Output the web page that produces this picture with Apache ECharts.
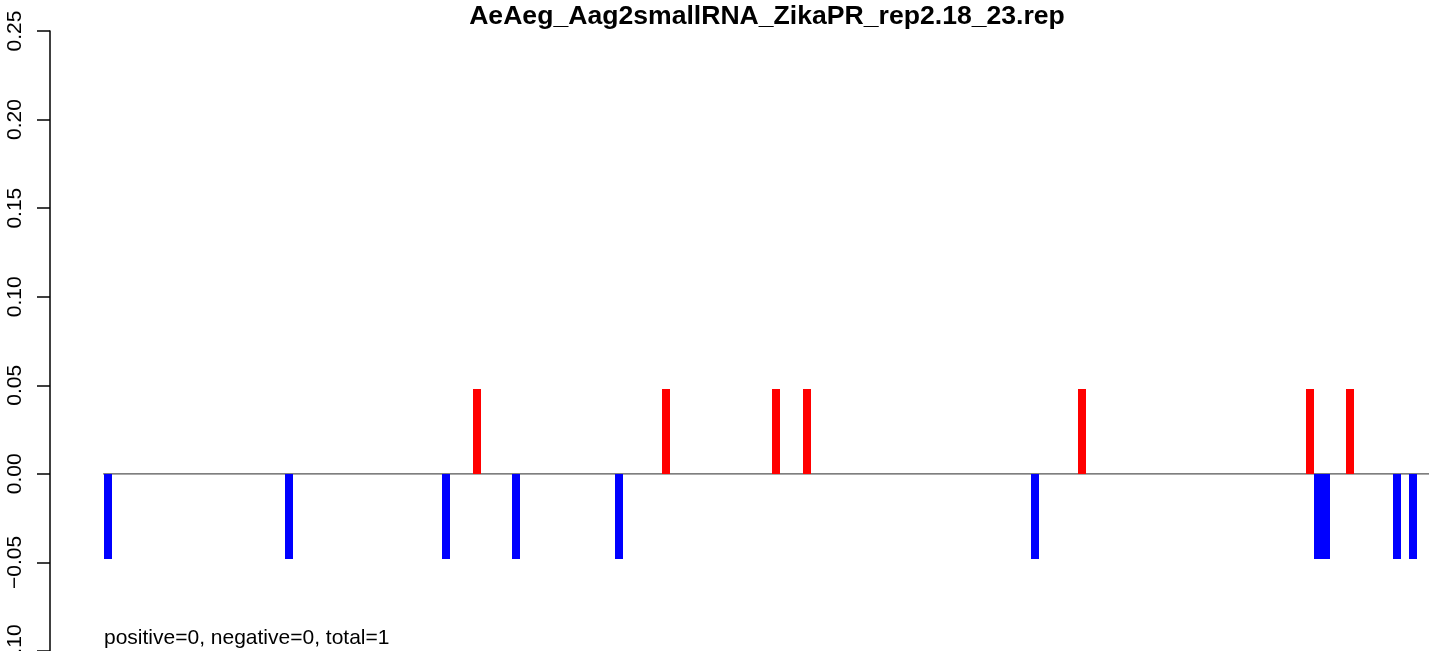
<!DOCTYPE html>
<html>
<head>
<meta charset="utf-8">
<script src="https://cdn.jsdelivr.net/npm/echarts@6/dist/echarts.min.js"></script>
<style>
html,body{margin:0;padding:0;background:#fff;}
#chart{width:1429px;height:651px;}
</style>
</head>
<body>
<div id="chart"></div>
<script>
// ---- data ----
const chartTitle = "AeAeg_Aag2smallRNA_ZikaPR_rep2.18_23.rep";
const footnote = "positive=0, negative=0, total=1";
const genomeStart = 1;
const genomeEnd = 10807;
const posPositions = [3037, 4573, 5467, 5719, 7955, 9807, 10132];
const posValues    = [0.048, 0.048, 0.048, 0.048, 0.048, 0.048, 0.048];
const negPositions = [40, 1511, 2787, 3354, 4191, 7573, 9872, 9937, 10514, 10644];
const negValues    = [-0.048, -0.048, -0.048, -0.048, -0.048, -0.048, -0.048, -0.048, -0.048, -0.048];
const yMin = -0.10, yMax = 0.25, yStep = 0.05;

// ---- build ----
const span = genomeEnd - genomeStart;
const xMin = genomeStart - 0.04 * span;
const xMax = genomeEnd + 0.04 * span;
const posData = posPositions.map((p, i) => [p, posValues[i]]);
const negData = negPositions.map((p, i) => [p, negValues[i]]);
const FONT = "'Liberation Sans', Arial, Helvetica, sans-serif";

function barRenderer(color) {
  return function (params, api) {
    const x = api.value(0), v = api.value(1);
    const p0 = api.coord([x, 0]);
    const p1 = api.coord([x, v]);
    const left = Math.round(p0[0] - 4);
    const top = Math.round(Math.min(p0[1], p1[1]));
    const bottom = Math.round(Math.max(p0[1], p1[1]));
    return {
      type: 'rect',
      shape: { x: left, y: top, width: 8, height: bottom - top },
      style: { fill: color }
    };
  };
}

const chart = echarts.init(document.getElementById('chart'), null, { renderer: 'canvas' });
chart.setOption({
  animation: false,
  backgroundColor: '#ffffff',
  grid: { left: 50, top: 31, width: 1436, height: 620, containLabel: false, outerBoundsMode: 'none' },
  xAxis: {
    type: 'value', min: xMin, max: xMax, show: false
  },
  yAxis: {
    type: 'value', min: yMin, max: yMax, interval: yStep,
    axisLine: { show: true, onZero: false, lineStyle: { color: '#000', width: 1.5 } },
    axisTick: { show: true, length: 13, lineStyle: { color: '#000', width: 1.5 } },
    splitLine: { show: false },
    axisLabel: {
      rotate: 90, margin: 24, color: '#000', fontSize: 21, fontFamily: FONT,
      showMinLabel: true, showMaxLabel: true,
      formatter: v => (v < -1e-9 ? '\u2212' : '') + Math.abs(v).toFixed(2)
    }
  },
  series: [
    {
      type: 'line', data: [[genomeStart, 0], [genomeEnd, 0]],
      symbol: 'none', silent: true,
      lineStyle: { color: '#555555', width: 1.2 }, z: 1
    },
    { type: 'custom', data: posData, renderItem: barRenderer('#ff0000'), z: 2 },
    { type: 'custom', data: negData, renderItem: barRenderer('#0000ff'), z: 2 }
  ],
  graphic: [
    {
      type: 'text', x: 767, y: 17,
      style: { text: chartTitle, fontSize: 26.6, fontWeight: 'bold', fontFamily: FONT, fill: '#000', textAlign: 'center', textVerticalAlign: 'middle', verticalAlign: 'middle' }
    },
    {
      type: 'text', x: 104, y: 638,
      style: { text: footnote, fontSize: 21, fontFamily: FONT, fill: '#000', textAlign: 'left', textVerticalAlign: 'middle', verticalAlign: 'middle' }
    }
  ]
});
</script>
</body>
</html>
